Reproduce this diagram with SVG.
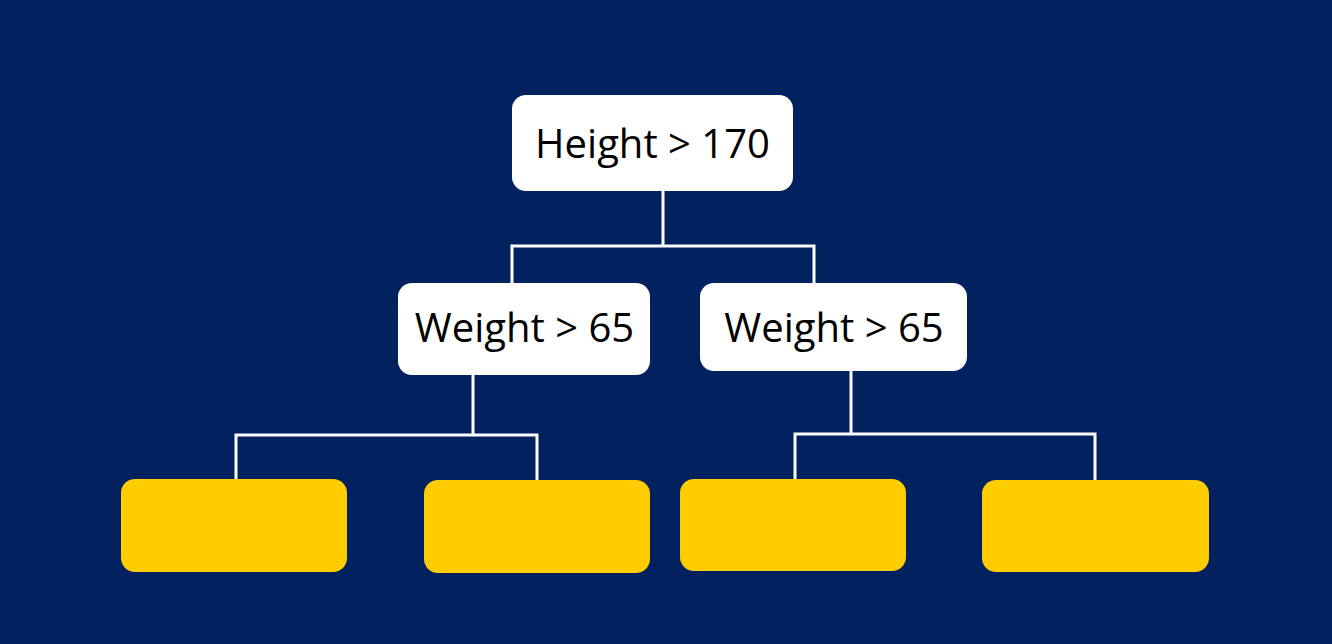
<svg xmlns="http://www.w3.org/2000/svg" width="1332" height="644" viewBox="0 0 1332 644">
  <style>
    .bg { fill: #02215F; }
    .node { fill: #FFFFFF; }
    .leaf { fill: #FFCC00; }
    .label { font-family: "Open Sans", "Noto Sans", sans-serif; font-size: 40px; fill: #000000; text-anchor: middle; }
    .conn { fill: none; stroke: #FFFFFF; stroke-width: 3; }
  </style>
  <rect class="bg" x="0" y="0" width="1332" height="644"/>
  <g id="connectors">
    <path class="conn" d="M663,191 V246 M512,283 V246 H814 V283"/>
    <path class="conn" d="M473,375 V435 M236,480 V435 H537 V480"/>
    <path class="conn" d="M851,371 V434 M795,479 V434 H1095 V480"/>
  </g>
  <g id="root">
    <rect class="node" x="512" y="95" width="281" height="96" rx="14"/>
    <text class="label" x="652.5" y="158">Height &gt; 170</text>
  </g>
  <g id="weight-left">
    <rect class="node" x="398" y="283" width="252" height="92" rx="14"/>
    <text class="label" x="524.5" y="342">Weight &gt; 65</text>
  </g>
  <g id="weight-right">
    <rect class="node" x="700" y="283" width="267" height="88" rx="14"/>
    <text class="label" x="834" y="342">Weight &gt; 65</text>
  </g>
  <g id="leaf-1"><rect class="leaf" x="121" y="479" width="226" height="93" rx="14"/></g>
  <g id="leaf-2"><rect class="leaf" x="424" y="480" width="226" height="93" rx="14"/></g>
  <g id="leaf-3"><rect class="leaf" x="680" y="479" width="226" height="92" rx="14"/></g>
  <g id="leaf-4"><rect class="leaf" x="982" y="480" width="227" height="92" rx="14"/></g>
</svg>
